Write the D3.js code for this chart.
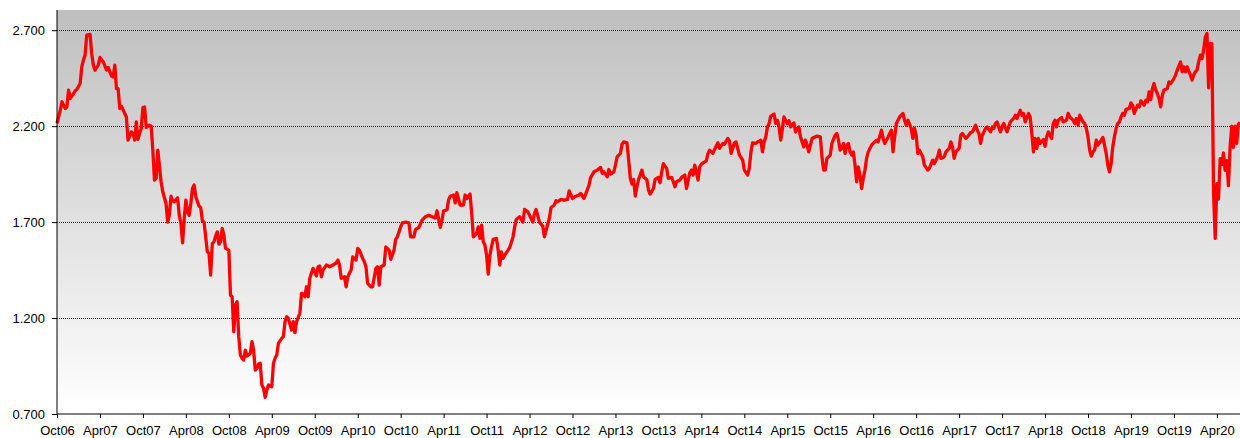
<!DOCTYPE html>
<html>
<head>
<meta charset="utf-8">
<script src="https://cdn.jsdelivr.net/npm/d3@7"></script>
<style>
  html, body { margin: 0; padding: 0; background: #fff; }
  #chart { width: 1240px; height: 438px; }
  text { font-family: "Liberation Sans", Arial, sans-serif; }
</style>
</head>
<body>
<div id="chart"></div>
<script>
// weekly observations, index = weeks since the Oct06 tick
const weeks = [
  0, 2, 3, 5, 6, 7, 8, 10, 11, 12, 14, 15, 16, 17, 18, 20, 21, 22, 23, 25, 26, 28, 30, 31, 33, 34, 35, 36, 37, 38, 39, 41, 42, 43, 45, 46, 47, 48, 49, 50,
  51, 52, 53, 54, 56, 57, 58, 59, 60, 61, 63, 64, 66, 67, 68, 69, 70, 71, 73, 74, 75, 76, 77, 78, 79, 80, 81, 82, 83, 84, 86, 87, 88, 89, 90, 91, 92, 93, 94, 95,
  96, 97, 98, 99, 100, 101, 102, 104, 105, 106, 107, 108, 109, 110, 111, 112, 113, 114, 115, 117, 118, 119, 120, 121, 122, 123, 124, 125, 126, 127, 128, 130, 131, 132, 133, 134, 136, 137, 138, 139,
  140, 142, 143, 144, 145, 147, 148, 149, 150, 151, 152, 153, 155, 156, 157, 158, 159, 160, 161, 163, 165, 167, 169, 170, 171, 172, 174, 175, 176, 178, 179, 181, 182, 183, 185, 186, 187, 188, 190, 191,
  193, 194, 195, 196, 198, 199, 201, 202, 204, 205, 206, 208, 209, 211, 213, 214, 216, 217, 219, 221, 223, 225, 227, 229, 230, 232, 233, 234, 236, 237, 238, 240, 241, 242, 244, 246, 247, 248, 250, 251,
  252, 254, 255, 256, 257, 258, 259, 260, 261, 262, 263, 264, 266, 267, 268, 269, 270, 271, 273, 274, 276, 277, 278, 280, 282, 283, 285, 286, 288, 289, 290, 292, 294, 295, 297, 298, 299, 301, 302, 303,
  305, 307, 309, 310, 312, 314, 316, 317, 319, 320, 322, 323, 325, 327, 329, 330, 331, 333, 334, 335, 337, 338, 339, 341, 342, 343, 345, 346, 347, 348, 349, 350, 351, 352, 354, 355, 356, 357, 358, 359,
  361, 362, 364, 365, 366, 367, 369, 370, 372, 373, 374, 375, 377, 378, 380, 381, 383, 384, 385, 386, 388, 389, 390, 392, 393, 394, 395, 397, 398, 400, 401, 403, 404, 406, 407, 408, 410, 411, 413, 415,
  416, 418, 419, 420, 421, 423, 424, 426, 427, 428, 429, 430, 431, 432, 434, 435, 436, 437, 438, 439, 440, 442, 443, 444, 446, 447, 449, 450, 452, 453, 454, 455, 457, 458, 460, 462, 463, 464, 465, 466,
  468, 469, 471, 472, 473, 474, 475, 476, 477, 478, 479, 480, 481, 482, 483, 484, 485, 486, 487, 488, 489, 490, 491, 493, 494, 496, 497, 499, 500, 501, 503, 504, 505, 506, 507, 508, 510, 512, 513, 514,
  515, 517, 518, 519, 520, 521, 522, 524, 525, 527, 528, 530, 531, 533, 534, 535, 537, 538, 540, 541, 542, 543, 544, 546, 547, 548, 550, 551, 553, 554, 556, 557, 558, 559, 560, 562, 563, 565, 566, 567,
  568, 569, 571, 572, 573, 575, 576, 577, 579, 580, 581, 583, 584, 585, 586, 588, 589, 590, 591, 592, 593, 594, 595, 597, 598, 599, 600, 602, 603, 604, 605, 606, 608, 609, 611, 612, 613, 615, 616, 617,
  618, 619, 621, 622, 623, 624, 625, 626, 627, 628, 629, 630, 632, 633, 634, 635, 636, 637, 638, 639, 640, 641, 642, 643, 644, 645, 646, 647, 649, 650, 651, 652, 654, 655, 656, 658, 659, 660, 661, 662,
  663, 664, 665, 666, 667, 668, 669, 670, 672, 673, 674, 676, 677, 678, 680, 681, 682, 683, 684, 686, 687, 688, 689, 690, 691, 692, 693, 694, 695, 696, 697, 698, 699, 700, 701, 702, 703, 704, 705, 706,
  707, 708, 709, 710, 711, 712, 713, 714, 715, 716
];
const values = [
  2.214, 2.283, 2.327, 2.292, 2.300, 2.388, 2.344, 2.370, 2.384, 2.391, 2.422, 2.509, 2.544, 2.570, 2.674, 2.678, 2.579, 2.518, 2.492, 2.518, 2.558, 2.535, 2.492, 2.506, 2.460, 2.457, 2.518, 2.396, 2.396, 2.292, 2.304, 2.266, 2.248, 2.127, 2.170, 2.162, 2.127, 2.222, 2.131, 2.162,
  2.188, 2.297, 2.300, 2.193, 2.205, 2.200, 2.075, 1.919, 1.928, 2.075, 1.910, 1.858, 1.797, 1.700, 1.736, 1.835, 1.811, 1.806, 1.827, 1.736, 1.693, 1.592, 1.719, 1.815, 1.754, 1.736, 1.797, 1.875, 1.893, 1.832, 1.783, 1.776, 1.706, 1.700, 1.623, 1.545, 1.537, 1.424, 1.589, 1.597,
  1.627, 1.649, 1.585, 1.597, 1.667, 1.632, 1.563, 1.554, 1.320, 1.311, 1.129, 1.268, 1.285, 1.103, 1.007, 0.990, 0.981, 1.033, 1.002, 1.016, 1.077, 1.033, 0.929, 0.938, 0.960, 0.964, 0.851, 0.834, 0.787, 0.825, 0.851, 0.842, 0.964, 0.990, 1.007, 1.068, 1.094, 1.103, 1.181, 1.207,
  1.198, 1.138, 1.181, 1.124, 1.181, 1.225, 1.329, 1.325, 1.311, 1.363, 1.311, 1.407, 1.459, 1.441, 1.419, 1.467, 1.471, 1.415, 1.450, 1.476, 1.467, 1.476, 1.488, 1.502, 1.476, 1.407, 1.415, 1.363, 1.415, 1.450, 1.519, 1.502, 1.563, 1.554, 1.511, 1.493, 1.467, 1.381, 1.363, 1.363,
  1.459, 1.467, 1.372, 1.467, 1.476, 1.571, 1.554, 1.506, 1.554, 1.610, 1.623, 1.675, 1.696, 1.700, 1.696, 1.623, 1.623, 1.662, 1.672, 1.710, 1.728, 1.736, 1.728, 1.722, 1.759, 1.672, 1.710, 1.759, 1.763, 1.815, 1.835, 1.841, 1.800, 1.853, 1.789, 1.789, 1.841, 1.823, 1.846, 1.745,
  1.623, 1.641, 1.675, 1.615, 1.684, 1.597, 1.580, 1.528, 1.429, 1.528, 1.571, 1.610, 1.615, 1.554, 1.476, 1.545, 1.511, 1.528, 1.554, 1.568, 1.623, 1.675, 1.714, 1.728, 1.700, 1.766, 1.754, 1.736, 1.700, 1.745, 1.766, 1.700, 1.679, 1.623, 1.690, 1.719, 1.776, 1.789, 1.811, 1.806,
  1.818, 1.815, 1.818, 1.863, 1.823, 1.835, 1.841, 1.849, 1.823, 1.846, 1.893, 1.933, 1.962, 1.971, 1.985, 1.954, 1.962, 1.936, 1.974, 1.950, 1.962, 1.997, 2.040, 2.058, 2.106, 2.118, 2.113, 2.023, 1.928, 1.898, 1.922, 1.835, 1.884, 1.922, 1.971, 1.936, 1.928, 1.922, 1.867, 1.846,
  1.875, 1.922, 1.933, 1.905, 1.962, 2.005, 1.980, 1.928, 1.933, 1.910, 1.884, 1.910, 1.919, 1.933, 1.945, 1.875, 1.957, 1.971, 1.945, 1.997, 1.919, 1.988, 2.002, 2.014, 2.019, 2.058, 2.075, 2.058, 2.078, 2.113, 2.084, 2.110, 2.106, 2.136, 2.123, 2.058, 2.113, 2.118, 2.050, 2.023,
  1.971, 1.945, 1.980, 2.066, 2.113, 2.110, 2.118, 2.127, 2.066, 2.118, 2.144, 2.196, 2.214, 2.252, 2.263, 2.214, 2.231, 2.196, 2.127, 2.183, 2.248, 2.214, 2.228, 2.196, 2.217, 2.170, 2.196, 2.144, 2.092, 2.127, 2.101, 2.066, 2.136, 2.141, 2.148, 2.144, 2.040, 1.971, 1.971, 2.032,
  2.049, 2.110, 2.153, 2.162, 2.127, 2.075, 2.084, 2.110, 2.058, 2.101, 2.110, 2.066, 2.049, 2.066, 1.997, 1.910, 1.988, 1.945, 1.875, 1.928, 1.971, 2.032, 2.066, 2.101, 2.110, 2.127, 2.118, 2.179, 2.136, 2.110, 2.144, 2.162, 2.179, 2.066, 2.144, 2.214, 2.248, 2.266, 2.231, 2.205,
  2.231, 2.188, 2.136, 2.188, 2.153, 2.058, 2.075, 2.040, 1.997, 1.971, 1.980, 2.023, 2.005, 2.040, 2.075, 2.032, 2.040, 2.066, 2.084, 2.118, 2.092, 2.032, 2.066, 2.084, 2.153, 2.162, 2.136, 2.144, 2.167, 2.170, 2.205, 2.179, 2.162, 2.110, 2.153, 2.188, 2.196, 2.170, 2.196, 2.188,
  2.214, 2.222, 2.170, 2.196, 2.214, 2.170, 2.196, 2.222, 2.240, 2.257, 2.240, 2.283, 2.257, 2.266, 2.222, 2.266, 2.248, 2.162, 2.066, 2.136, 2.084, 2.136, 2.110, 2.130, 2.095, 2.144, 2.170, 2.136, 2.214, 2.231, 2.196, 2.231, 2.245, 2.222, 2.231, 2.266, 2.248, 2.231, 2.214, 2.240,
  2.205, 2.257, 2.222, 2.214, 2.188, 2.144, 2.075, 2.044, 2.066, 2.075, 2.127, 2.101, 2.127, 2.141, 2.101, 2.058, 1.997, 1.962, 2.005, 2.092, 2.144, 2.188, 2.214, 2.222, 2.248, 2.266, 2.257, 2.287, 2.292, 2.321, 2.309, 2.266, 2.309, 2.300, 2.332, 2.309, 2.335, 2.327, 2.379, 2.339,
  2.396, 2.422, 2.388, 2.370, 2.344, 2.300, 2.361, 2.388, 2.396, 2.431, 2.422, 2.448, 2.466, 2.492, 2.535, 2.483, 2.509, 2.483, 2.509, 2.466, 2.440, 2.466, 2.483, 2.492, 2.535, 2.570, 2.552, 2.596, 2.665, 2.683, 2.400, 2.631, 2.630, 1.850, 1.615, 1.900, 1.820, 2.030, 2.000, 2.060,
  1.970, 2.020, 1.890, 2.090, 2.200, 2.090, 2.200, 2.110, 2.210, 2.220
];
const tickLabels = [
  'Oct06', 'Apr07', 'Oct07', 'Apr08', 'Oct08', 'Apr09', 'Oct09', 'Apr10', 'Oct10', 'Apr11', 'Oct11', 'Apr12', 'Oct12', 'Apr13',
  'Oct13', 'Apr14', 'Oct14', 'Apr15', 'Oct15', 'Apr16', 'Oct16', 'Apr17', 'Oct17', 'Apr18', 'Oct18', 'Apr19', 'Oct19', 'Apr20'
];
const yTicks = [0.7, 1.2, 1.7, 2.2, 2.7];
const TICK_EVERY = 26; // one label every 26 weekly points
const LAST_WEEK = 716;

function render() {
  const el = d3.select('#chart');
  el.selectAll('*').remove();
  const W = 1240, H = 438, M = { t: 11, r: 0, b: 24, l: 57 };
  const svg = el.append('svg').attr('width', W).attr('height', H).attr('viewBox', `0 0 ${W} ${H}`);

  const x = d3.scaleLinear().domain([0, LAST_WEEK]).range([M.l, W - M.r]);
  const y = d3.scaleLinear().domain([0.7, 2.8]).range([H - M.b, M.t]);

  const grad = svg.append('defs').append('linearGradient').attr('id', 'bg').attr('x1', 0).attr('y1', 0).attr('x2', 0).attr('y2', 1);
  grad.append('stop').attr('offset', '0%').attr('stop-color', '#bfbfbf');
  grad.append('stop').attr('offset', '100%').attr('stop-color', '#ffffff');

  svg.append('rect').attr('x', M.l).attr('y', y(2.8) - 1).attr('width', W - M.r - M.l).attr('height', y(0.7) - y(2.8) + 1).attr('fill', 'url(#bg)');

  // dotted gridlines
  svg.append('g').selectAll('line').data(yTicks.slice(1)).enter().append('line')
    .attr('x1', M.l).attr('x2', W - M.r).attr('y1', d => Math.round(y(d)) + 0.5).attr('y2', d => Math.round(y(d)) + 0.5)
    .attr('stroke', '#222').attr('stroke-width', 1).attr('stroke-dasharray', '1,1');

  const line = d3.line().x((d, i) => x(weeks[i])).y(d => y(d));
  svg.append('path').datum(values).attr('d', line)
    .attr('fill', 'none').attr('stroke', '#ff0000').attr('stroke-width', 3.3).attr('stroke-linejoin', 'round');

  const tickIdx = tickLabels.map((_, i) => i * TICK_EVERY);
  const xAxis = d3.axisBottom(x).tickValues(tickIdx).tickSize(4).tickPadding(8).tickFormat((d, i) => tickLabels[i]);
  const gx = svg.append('g').attr('transform', `translate(0,${y(0.7)})`).call(xAxis);
  gx.select('.domain').attr('d', `M${M.l},0H${W - M.r}`).attr('stroke', '#000');

  const yAxis = d3.axisLeft(y).tickValues(yTicks).tickSize(5).tickPadding(7).tickFormat(d3.format('.3f'));
  const gy = svg.append('g').attr('transform', `translate(${M.l},0)`).call(yAxis);
  gy.select('.domain').attr('d', `M0,${y(2.8) - 1}V${y(0.7)}`).attr('stroke', '#000');

  svg.selectAll('.tick line').attr('stroke', '#000');
  svg.selectAll('.tick text').attr('fill', '#000').style('font-size', '13px').style('font-family', '"Liberation Sans", Arial, sans-serif');
}

render();
</script>
</body>
</html>
